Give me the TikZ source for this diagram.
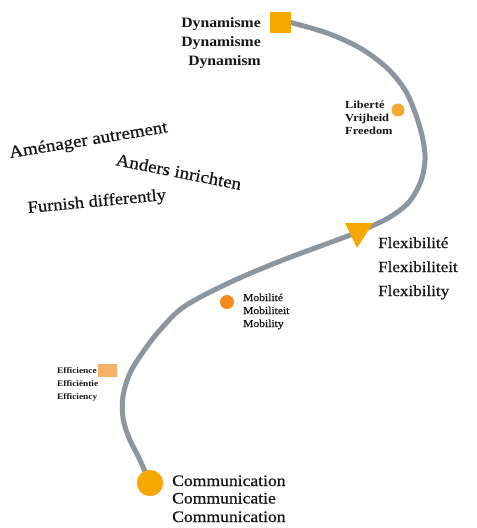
\documentclass[tikz,border=0pt]{standalone}
\usepackage{fontspec}
\newfontfamily\gar[FakeStretch=1.1]{Liberation Serif}
\newfontfamily\garm[FakeStretch=1.1,FakeBold=0.6]{Liberation Serif}
\newfontfamily\garw[FakeStretch=1.15]{Liberation Serif}
\definecolor{curvegray}{HTML}{8C969E}
\definecolor{gold}{HTML}{F7A800}
\definecolor{libcol}{HTML}{F5A833}
\definecolor{mobcol}{HTML}{F28C1C}
\definecolor{effcol}{HTML}{F5B266}
\definecolor{ink}{HTML}{151515}
\tikzset{
  lbl/.style={inner sep=0pt, text=ink},
  dynlbl/.style={lbl, anchor=base east, font=\gar\bfseries\fontsize{14.3}{16}\selectfont},
  flexlbl/.style={lbl, anchor=base west, font=\garm\fontsize{15.5}{18}\selectfont},
  commlbl/.style={lbl, anchor=base west, font=\garm\fontsize{16}{18}\selectfont},
  moblbl/.style={lbl, anchor=base west, font=\garm\fontsize{10.5}{12}\selectfont},
  liblbl/.style={lbl, anchor=base west, font=\garw\bfseries\fontsize{10.8}{12}\selectfont},
  efflbl/.style={lbl, anchor=base west, font=\gar\bfseries\fontsize{8.5}{10}\selectfont},
  slant/.style={lbl, anchor=base west, font=\garm\fontsize{17.3}{20}\selectfont},
  marker/.style={inner sep=0pt, draw=none},
  path/.style={draw=curvegray, line width=5pt, line cap=round}
}
\begin{document}
\begin{tikzpicture}[x=1pt,y=-1pt]
\useasboundingbox (0,0) rectangle (477,528);
% markers (placed first for names)
\node[marker, fill=gold, minimum width=21pt, minimum height=21pt] (dyn) at (280,22.5) {};
\node[marker, fill=gold, circle, minimum size=26pt] (comm) at (150,483) {};
% main curve
\draw[path] plot[smooth, tension=0.55] coordinates {
  (dyn.east) (327,33) (360,48) (387,68) (405,90) (416,115) (423,140)
  (425,160) (421,181) (409,202) (390,217) (365,229) (337,240)
  (283,260) (233,281) (185,306) (160,330) (143,352) (130,373)
  (123,396) (123,418) (129,438) (139,458) (comm.center)};
% redraw markers on top
\node[marker, fill=gold, minimum width=21pt, minimum height=21pt] at (dyn) {};
\node[marker, fill=gold, circle, minimum size=26pt] at (comm) {};
\fill[gold] (345,223) coordinate (ta) -- (373,223) -- (357,248) -- cycle;
\node[marker, fill=libcol, circle, minimum size=13pt] (lib) at (398,110) {};
\node[marker, fill=mobcol, circle, minimum size=14pt] (mob) at (227,302) {};
\node[marker, fill=effcol, minimum width=19pt, minimum height=13pt] (eff) at (107.5,370.5) {};
% Dynamisme
\node[dynlbl] (d1) at (261,27.3) {Dynamisme};
\node[dynlbl] (d2) at (261,46.7) {Dynamisme};
\node[dynlbl] (d3) at (261,65.7) {Dynamism};
% Liberte
\node[liblbl] (l1) at (345,108) {Liberté};
\node[liblbl] (l2) at (345,121) {Vrijheid};
\node[liblbl] (l3) at (345,134) {Freedom};
% slanted
\node[slant, rotate=9.3] (s1) at (10,158) {Aménager autrement};
\node[slant, rotate=-11.3] (s2) at (115,165) {Anders inrichten};
\node[slant, rotate=5.4, font=\garm\fontsize{16.8}{20}\selectfont] (s3) at (28,213) {Furnish differently};
% Flexibilite
\node[flexlbl] (f1) at (378,248) {Flexibilité};
\node[flexlbl] (f2) at (378,272) {Flexibiliteit};
\node[flexlbl] (f3) at (378,296) {Flexibility};
% Mobilite
\node[moblbl] (m1) at (243,301) {Mobilité};
\node[moblbl] (m2) at (243,314) {Mobiliteit};
\node[moblbl] (m3) at (243,327) {Mobility};
% Efficience
\node[efflbl] (e1) at (57,373) {Efficience};
\node[efflbl] (e2) at (57,386) {Efficiëntie};
\node[efflbl] (e3) at (57,399) {Efficiency};
% Communication
\node[commlbl] (c1) at (172,486) {Communication};
\node[commlbl] (c2) at (172,503.5) {Communicatie};
\node[commlbl] (c3) at (172,522) {Communication};
\end{tikzpicture}
\end{document}
